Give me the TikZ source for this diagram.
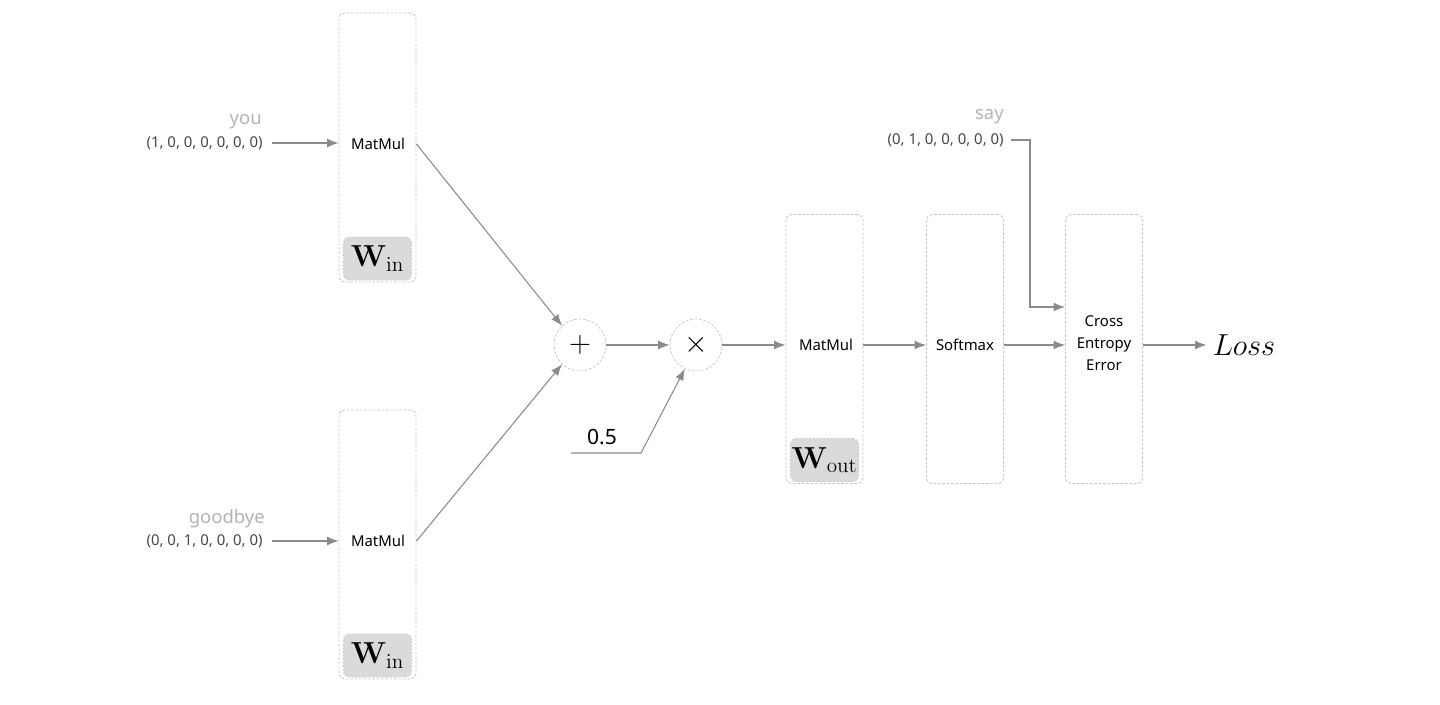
\documentclass[tikz,border=0pt]{standalone}
\usepackage[no-math]{fontspec}
\setmainfont{Noto Sans}
\usetikzlibrary{arrows.meta,positioning,calc}
\definecolor{linha}{HTML}{8A8A8A}
\definecolor{caixa}{HTML}{C4C4C4}
\definecolor{rotulo}{HTML}{B4B4B4}
\definecolor{vetor}{HTML}{454545}
\definecolor{peso}{HTML}{DADADA}

\begin{document}
\begin{tikzpicture}[x=0.02cm, y=-0.02cm, >={Latex[length=6.5pt,width=5pt]}, font=\fontsize{8.5}{10}\selectfont,
  layer/.style={draw=caixa, dash pattern=on 1.5pt off 1pt, rounded corners=3pt, minimum width=1.54cm, minimum height=5.38cm, line width=0.5pt},
  wbox/.style={draw=caixa, fill=peso, dash pattern=on 1pt off 1pt, rounded corners=3pt, minimum width=1.36cm, minimum height=0.86cm, inner sep=0pt, font=\fontsize{18.5}{18.5}\selectfont},
  op/.style={circle, draw=caixa, dash pattern=on 1.5pt off 1pt, minimum size=1.04cm, inner sep=0pt, font=\fontsize{18}{18}\selectfont},
  word/.style={text=rotulo, inner sep=0pt, anchor=east, font=\fontsize{10.5}{12}\selectfont},
  vec/.style={text=vetor, inner sep=0pt, anchor=east},
  link/.style={->, draw=linha, line width=0.6pt}]
  \useasboundingbox (0,0) rectangle (1440,704);
  % input side
  \node[layer] (l1) at (377.5,147.5) {};
  \node (m1) at (378,144) {MatMul};
  \node[wbox, above=0.04cm of l1.south] (w1) {$\mathbf{W}_{\mathrm{in}}$};
  \node[layer] (l2) at (377.5,544.5) {};
  \node (m2) at (378,541) {MatMul};
  \node[wbox, above=0.04cm of l2.south] (w2) {$\mathbf{W}_{\mathrm{in}}$};
  \node[word] (you) at (262,122) {you};
  \node[vec] (x1) at (263,143) {(1, 0, 0, 0, 0, 0, 0)};
  \node[word] (bye) at (265,519) {goodbye};
  \node[vec] (x2) at (263,541) {(0, 0, 1, 0, 0, 0, 0)};
  \draw[link] ([xshift=5pt]x1.east) -- (x1.east -| l1.west);
  \draw[link] ([xshift=5pt]x2.east) -- (x2.east -| l2.west);
  % average
  \node[op] (add) at (580,345) {$+$};
  \node[op] (mul) at (696,345) {$\times$};
  \draw[link] (m1 -| l1.east) -- (add.133);
  \draw[link] (m2 -| l2.east) -- (add.227);
  \draw[link] (add) -- (mul);
  \node[font=\fontsize{12}{12}\selectfont] (half) at (602,437) {0.5};
  \coordinate (h0) at (571,453);
  \coordinate (h1) at (641,453);
  \draw[link] (h0) -- (h1) -- (mul.245);
  % output side
  \node[layer] (l3) at (824.5,349) {};
  \node (m3) at (826,345) {MatMul};
  \node[wbox, above=0.04cm of l3.south] (w3) {$\mathbf{W}_{\mathrm{out}}$};
  \node[layer] (l4) at (965,349) {};
  \node (sm) at (965,345) {Softmax};
  \node[layer] (l5) at (1104,349) {};
  \node[align=center, font=\fontsize{8.5}{12.5}\selectfont] (ce) at (1104,343) {Cross\\Entropy\\Error};
  \node[font=\fontsize{16}{16}\selectfont] (loss) at (1244,345) {$Loss$};
  \draw[link] (mul) -- (mul -| l3.west);
  \draw[link] (m3 -| l3.east) -- (m3 -| l4.west);
  \draw[link] (sm -| l4.east) -- (sm -| l5.west);
  \draw[link] (l5.east |- loss) -- (loss);
  % target
  \node[word] (say) at (1004,117) {say};
  \node[vec] (x3) at (1004,140) {(0, 1, 0, 0, 0, 0, 0)};
  \coordinate (bend) at (1030,307);
  \draw[link] ([xshift=4pt]x3.east) -| (bend) -- (bend -| l5.west);
\end{tikzpicture}
\end{document}
